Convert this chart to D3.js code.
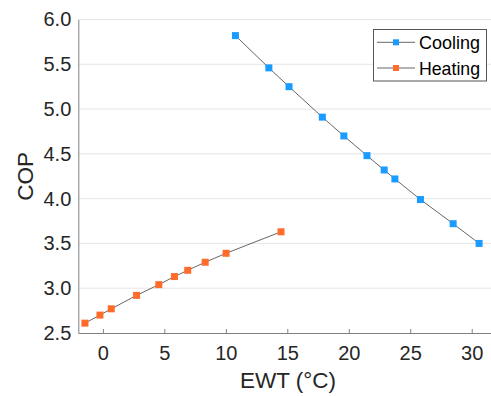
<!DOCTYPE html>
<html><head><meta charset="utf-8">
<script src="https://cdn.jsdelivr.net/npm/d3@7"></script>
<style>body{margin:0;background:#fff;} svg{display:block;font-family:Arial,"Liberation Sans",sans-serif;}</style>
</head><body><svg id="c" width="491" height="396"></svg>
<script>
const coolingX = [10.78, 13.5, 15.14, 17.85, 19.6, 21.48, 22.88, 23.75, 25.83, 28.49, 30.6];
const coolingY = [5.82, 5.46, 5.25, 4.91, 4.70, 4.48, 4.32, 4.22, 3.99, 3.72, 3.50];
const heatingX = [-1.46, -0.24, 0.68, 2.74, 4.55, 5.82, 6.9, 8.32, 10.02, 14.49];
const heatingY = [2.61, 2.70, 2.77, 2.92, 3.04, 3.13, 3.20, 3.29, 3.39, 3.63];
const xTicks = [0, 5, 10, 15, 20, 25, 30];
const yTicks = [2.5, 3.0, 3.5, 4.0, 4.5, 5.0, 5.5, 6.0];
const seriesNames = ["Cooling", "Heating"];
const seriesColors = ["#1a9bff", "#ff6b2b"];

const svg = d3.select("#c");
const L = 78.3, R = 496.3, T = 19.5, B = 333;
const x = d3.scaleLinear().domain([-2, 32]).range([L, R]);
const y = d3.scaleLinear().domain([2.5, 6.0]).range([B, T]);

// grid
svg.append("g").selectAll("line").data(yTicks.slice(1)).join("line")
  .attr("x1", L).attr("x2", R).attr("y1", d => y(d)).attr("y2", d => y(d))
  .attr("stroke", "#e6e6e6").attr("stroke-width", 1);

// x axis
const xa = svg.append("g").attr("transform", `translate(0,${B})`)
  .call(d3.axisBottom(x).tickValues(xTicks).tickSizeInner(-4).tickSizeOuter(0).tickPadding(13).tickFormat(d3.format("d")));
xa.select(".domain").attr("stroke", "#808080");
xa.selectAll(".tick line").attr("stroke", "#808080");
xa.selectAll("text").attr("font-size", 20).attr("fill", "#262626");

// y axis
const ya = svg.append("g").attr("transform", `translate(${L},0)`)
  .call(d3.axisLeft(y).tickValues(yTicks).tickSize(0).tickPadding(7).tickFormat(d3.format(".1f")));
ya.select(".domain").attr("stroke", "#808080");
ya.selectAll("text").attr("font-size", 20).attr("fill", "#262626");

// labels
svg.append("text").attr("x", 288).attr("y", 388).attr("text-anchor", "middle")
  .attr("font-size", 22.5).attr("fill", "#262626").text("EWT (°C)");
svg.append("text").attr("transform", `translate(33,${(T + B) / 2}) rotate(-90)`).attr("text-anchor", "middle")
  .attr("font-size", 22.5).attr("fill", "#262626").text("COP");

const line = d3.line().x(d => x(d[0])).y(d => y(d[1]));
const series = [
  coolingX.map((v, i) => [v, coolingY[i]]),
  heatingX.map((v, i) => [v, heatingY[i]])
];
series.forEach((pts, k) => {
  svg.append("path").datum(pts).attr("d", line).attr("fill", "none").attr("stroke", "#555").attr("stroke-width", 0.9);
  svg.append("g").selectAll("rect").data(pts).join("rect")
    .attr("x", d => x(d[0]) - 3.5).attr("y", d => y(d[1]) - 3.5)
    .attr("width", 7).attr("height", 7).attr("fill", seriesColors[k]);
});

// legend
const lg = svg.append("g");
lg.append("rect").attr("x", 373.5).attr("y", 29.5).attr("width", 113).attr("height", 51.5)
  .attr("fill", "#fff").attr("stroke", "#555").attr("stroke-width", 1);
seriesNames.forEach((n, i) => {
  const yy = 42.3 + i * 25.7;
  lg.append("line").attr("x1", 377).attr("x2", 415).attr("y1", yy).attr("y2", yy).attr("stroke", "#555").attr("stroke-width", 0.9);
  lg.append("rect").attr("x", 393).attr("y", yy - 3).attr("width", 6).attr("height", 6).attr("fill", seriesColors[i]);
  lg.append("text").attr("x", 419).attr("y", yy + 7).attr("font-size", 18.5).attr("textLength", 61).attr("lengthAdjust", "spacingAndGlyphs").attr("fill", "#000").text(n);
});
</script></body></html>
